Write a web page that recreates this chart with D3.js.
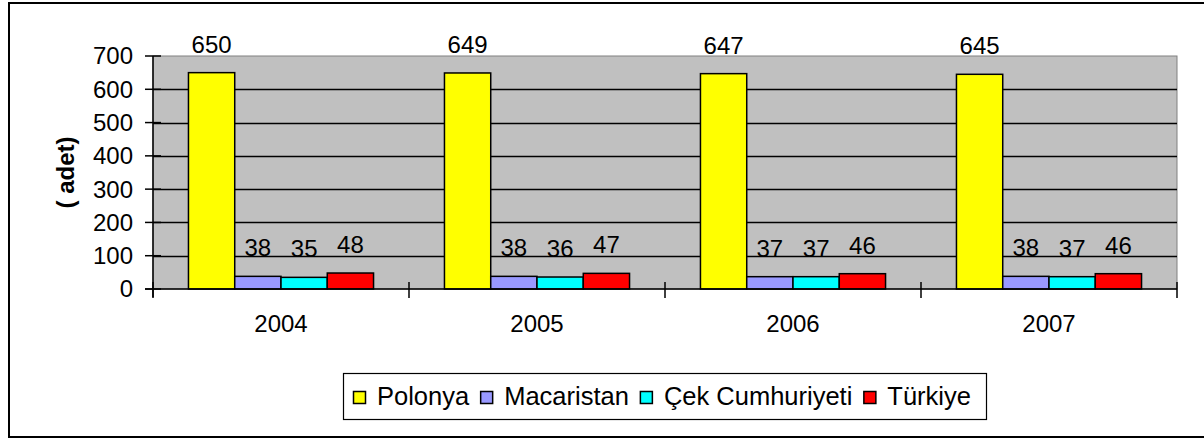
<!DOCTYPE html>
<html>
<head>
<meta charset="utf-8">
<script src="https://cdn.jsdelivr.net/npm/d3@7"></script>
<style>
  body { margin: 0; background: #fff; }
  text { font-family: "Liberation Sans", Arial, sans-serif; fill: #000; }
</style>
</head>
<body>
<div id="graph"></div>
<script>
// donnees
var annees = ["2004", "2005", "2006", "2007"];
var pays = ["Polonya", "Macaristan", "Çek Cumhuriyeti", "Türkiye"];
var polonya = [650, 649, 647, 645];
var macaristan = [38, 38, 37, 38];
var cek = [35, 36, 37, 37];
var turkiye = [48, 47, 46, 46];
var couleurs = ["#FFFF00", "#9999FF", "#00FFFF", "#FF0000"];
var yTicks = [0, 100, 200, 300, 400, 500, 600, 700];
var yTitre = "( adet)";

var series = [polonya, macaristan, cek, turkiye];
var width = 1204, height = 439;
var plot = {left: 153, right: 1177, top: 56, bottom: 289};

var svg = d3.select("#graph").append("svg")
    .attr("width", width).attr("height", height);

// cadre exterieur
svg.append("rect")
    .attr("x", 9).attr("y", 3).attr("width", width).attr("height", 434)
    .style("fill", "none").style("stroke", "#000").style("stroke-width", 2);

var y = d3.scaleLinear().domain([0, 700]).range([plot.bottom, plot.top]);
var x0 = d3.scaleBand().domain(annees).range([plot.left, plot.right])
    .paddingInner(0.277).paddingOuter(0.1385);
var x1 = d3.scaleBand().domain(pays).range([0, x0.bandwidth()]);
var step = x0.step();

// fond gris de la zone de trace
svg.append("rect")
    .attr("x", plot.left).attr("y", plot.top)
    .attr("width", plot.right - plot.left).attr("height", plot.bottom - plot.top)
    .style("fill", "#C0C0C0").style("stroke", "#808080").style("stroke-width", 1);

// lignes de grille
svg.append("g").selectAll("line").data(yTicks.filter(d => d > 0 && d < 700)).enter().append("line")
    .attr("x1", plot.left).attr("x2", plot.right)
    .attr("y1", d => Math.round(y(d)) + 0.5).attr("y2", d => Math.round(y(d)) + 0.5)
    .style("stroke", "#000").style("stroke-width", 1.3);

// barres
var groupes = svg.append("g").selectAll("g").data(annees).enter().append("g")
    .attr("transform", d => "translate(" + x0(d) + ",0)");
groupes.selectAll("rect").data((d, i) => pays.map((p, j) => ({p: p, v: series[j][i], c: couleurs[j]})))
    .enter().append("rect")
    .attr("x", d => x1(d.p)).attr("width", x1.bandwidth())
    .attr("y", d => y(d.v)).attr("height", d => y(0) - y(d.v))
    .style("fill", d => d.c).style("stroke", "#000").style("stroke-width", 1.5);
groupes.selectAll("text").data((d, i) => pays.map((p, j) => ({p: p, v: series[j][i]})))
    .enter().append("text")
    .attr("x", d => x1(d.p) + x1.bandwidth() / 2).attr("y", d => y(d.v) - 20)
    .attr("text-anchor", "middle").style("font-size", "24px")
    .text(d => d.v);

// axe Y
var axeY = svg.append("g");
axeY.append("line")
    .attr("x1", plot.left).attr("x2", plot.left).attr("y1", plot.top).attr("y2", plot.bottom + 8)
    .style("stroke", "#000").style("stroke-width", 1.5);
axeY.selectAll(".tick").data(yTicks).enter().append("line")
    .attr("x1", plot.left - 8).attr("x2", plot.left + 8)
    .attr("y1", d => y(d)).attr("y2", d => y(d))
    .style("stroke", "#000").style("stroke-width", 1.5);
axeY.selectAll("text").data(yTicks).enter().append("text")
    .attr("x", 133).attr("y", d => y(d)).attr("dy", "0.35em")
    .attr("text-anchor", "end").style("font-size", "24px")
    .text(d => d);
svg.append("text")
    .attr("transform", "translate(74," + (plot.top + plot.bottom) / 2 + ") rotate(-90)")
    .attr("text-anchor", "middle").style("font-size", "24px").style("font-weight", "bold")
    .text(yTitre);

// axe X
var axeX = svg.append("g");
axeX.append("line")
    .attr("x1", plot.left - 8).attr("x2", plot.right).attr("y1", plot.bottom).attr("y2", plot.bottom)
    .style("stroke", "#000").style("stroke-width", 1.5);
axeX.selectAll(".tick").data(d3.range(annees.length + 1)).enter().append("line")
    .attr("x1", i => plot.left + i * step).attr("x2", i => plot.left + i * step)
    .attr("y1", plot.bottom - 7).attr("y2", plot.bottom + 9)
    .style("stroke", "#000").style("stroke-width", 1.5);
axeX.selectAll("text").data(annees).enter().append("text")
    .attr("x", d => x0(d) + x0.bandwidth() / 2).attr("y", 332)
    .attr("text-anchor", "middle").style("font-size", "24px")
    .text(d => d);

// legende
var legende = svg.append("g");
var boite = legende.append("rect")
    .attr("x", 343.5).attr("y", 373.5).attr("height", 46)
    .style("fill", "#fff").style("stroke", "#000").style("stroke-width", 1.2);
var xl = 353;
pays.forEach(function (p, i) {
    legende.append("rect")
        .attr("x", xl + 0.5).attr("y", 391.5).attr("width", 12).attr("height", 12)
        .style("fill", couleurs[i]).style("stroke", "#000").style("stroke-width", 1.5);
    var t = legende.append("text")
        .attr("x", xl + 24).attr("y", 405)
        .style("font-size", "25.5px")
        .text(p);
    xl = xl + 24 + t.node().getComputedTextLength() + 11;
});
boite.attr("width", 986 - 343);
</script>
</body>
</html>
